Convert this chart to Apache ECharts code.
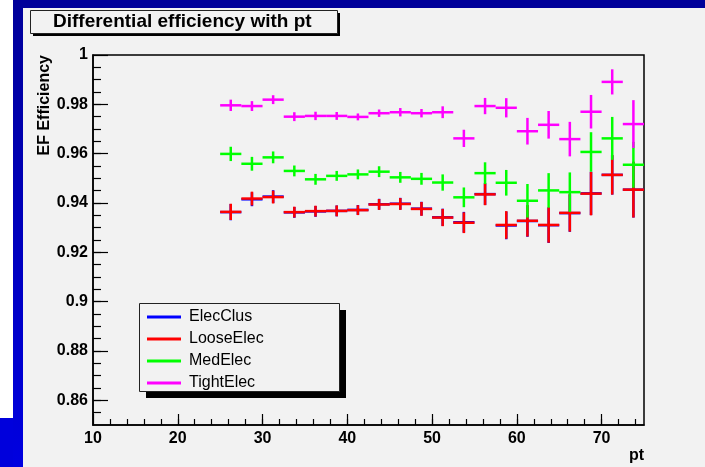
<!DOCTYPE html>
<html>
<head>
<meta charset="utf-8">
<script src="https://cdn.jsdelivr.net/npm/echarts@6/dist/echarts.min.js"></script>
<style>
  html, body { margin: 0; padding: 0; background: #f2f2f2; }
  #chart { width: 705px; height: 467px; }
</style>
</head>
<body>
<div id="chart"></div>
<script>
// bin centres in pt (bins are 2.5 wide)
var ptCenters = [26.25, 28.75, 31.25, 33.75, 36.25, 38.75, 41.25, 43.75, 46.25, 48.75,
                 51.25, 53.75, 56.25, 58.75, 61.25, 63.75, 66.25, 68.75, 71.25, 73.75];
var binHalf = 1.25;

var elecClus = [0.9363, 0.9415, 0.9426, 0.9362, 0.9366, 0.9368, 0.9372, 0.9395, 0.9397, 0.9377,
                0.9342, 0.9322, 0.9436, 0.9309, 0.9327, 0.9310, 0.9359, 0.9439, 0.9514, 0.9454];
var elecClusErr = [0.0033, 0.0028, 0.0026, 0.0022, 0.0022, 0.0022, 0.0020, 0.0022, 0.0024, 0.0028,
                   0.0035, 0.0042, 0.0044, 0.0056, 0.0064, 0.0072, 0.0076, 0.0088, 0.0080, 0.0113];

var looseElec = [0.9364, 0.9418, 0.9424, 0.9363, 0.9367, 0.9368, 0.9371, 0.9394, 0.9396, 0.9376,
                 0.9341, 0.9320, 0.9435, 0.9311, 0.9328, 0.9311, 0.9360, 0.9438, 0.9514, 0.9454];
var looseElecErr = [0.0033, 0.0028, 0.0026, 0.0022, 0.0022, 0.0022, 0.0020, 0.0022, 0.0024, 0.0028,
                    0.0035, 0.0042, 0.0044, 0.0056, 0.0064, 0.0072, 0.0076, 0.0088, 0.0080, 0.0113];

var medElec = [0.9599, 0.9559, 0.9585, 0.9530, 0.9496, 0.9510, 0.9516, 0.9527, 0.9504, 0.9498,
               0.9483, 0.9423, 0.9521, 0.9482, 0.9409, 0.9451, 0.9444, 0.9607, 0.9662, 0.9555];
var medElecErr = [0.0029, 0.0028, 0.0024, 0.0022, 0.0022, 0.0020, 0.0020, 0.0022, 0.0022, 0.0024,
                  0.0033, 0.0040, 0.0044, 0.0052, 0.0068, 0.0070, 0.0080, 0.0080, 0.0087, 0.0093];

var tightElec = [0.9796, 0.9793, 0.9819, 0.9750, 0.9753, 0.9753, 0.9749, 0.9764, 0.9768, 0.9764,
                 0.9768, 0.9662, 0.9793, 0.9786, 0.9691, 0.9717, 0.9659, 0.9770, 0.9891, 0.9720];
var tightElecErr = [0.0023, 0.0020, 0.0018, 0.0018, 0.0017, 0.0016, 0.0014, 0.0015, 0.0017, 0.0017,
                    0.0024, 0.0035, 0.0033, 0.0039, 0.0054, 0.0056, 0.0070, 0.0068, 0.0051, 0.0097];

// axis ticks
var xMajor = [10, 20, 30, 40, 50, 60, 70];
var yMajor = [0.86, 0.88, 0.9, 0.92, 0.94, 0.96, 0.98, 1];
var xMinor = [];
for (var i = 12; i < 75; i += 2) xMinor.push(i);
var yMinor = [];
for (var j = 171; j < 200; j++) yMinor.push(j * 0.005);

var chart = echarts.init(document.getElementById('chart'));

function makeData(vals, errs) {
  return ptCenters.map(function (x, k) { return [x, vals[k], errs[k]]; });
}

// cross = bin width horizontally, error bar vertically
function renderCross(params, api) {
  var x = api.value(0), y = api.value(1), e = api.value(2);
  var a = api.coord([x - binHalf, y]), b = api.coord([x + binHalf, y]);
  var c = api.coord([x, y - e]), d = api.coord([x, y + e]);
  var st = { stroke: api.visual('color'), lineWidth: 2.5 };
  return {
    type: 'group',
    children: [
      { type: 'line', shape: { x1: a[0], y1: a[1], x2: b[0], y2: b[1] }, style: st },
      { type: 'line', shape: { x1: c[0], y1: c[1], x2: d[0], y2: d[1] }, style: st }
    ]
  };
}

function crossSeries(name, color, vals, errs) {
  return {
    name: name,
    type: 'custom',
    renderItem: renderCross,
    itemStyle: { color: color },
    encode: { x: 0, y: 1 },
    data: makeData(vals, errs),
    clip: true
  };
}

// box with a hard black shadow, ROOT style
function shadowBox(x, y, w, h, off) {
  return [
    { type: 'rect', z: 3, shape: { x: x + off, y: y + off, width: w, height: h }, style: { fill: '#000' } },
    { type: 'rect', z: 3, shape: { x: x + 0.5, y: y + 0.5, width: w, height: h },
      style: { fill: '#f2f2f2', stroke: '#222', lineWidth: 1 } }
  ];
}

var font = '"Liberation Sans", Arial, sans-serif';

var option = {
  backgroundColor: '#f2f2f2',
  animation: false,
  title: {
    text: 'Differential efficiency with pt',
    left: 53,
    top: 10,
    padding: 0,
    textStyle: { fontFamily: font, fontWeight: 'bold', fontSize: 19, color: '#000', lineHeight: 23 }
  },
  legend: {
    orient: 'vertical',
    left: 139,
    top: 303,
    padding: [6, 8, 3, 8],
    itemGap: 6,
    itemWidth: 34,
    itemHeight: 3,
    icon: 'rect',
    textStyle: { fontFamily: font, fontSize: 16, color: '#000', lineHeight: 16, padding: [0, 0, 0, 3] },
    data: ['ElecClus', 'LooseElec', 'MedElec', 'TightElec']
  },
  graphic: {
    elements: [
      { type: 'rect', z: -1, shape: { x: 0, y: 0, width: 13, height: 418 }, style: { fill: '#ffffff' } },
      { type: 'rect', z: -1, shape: { x: 0, y: 418, width: 23, height: 49 }, style: { fill: '#0000dc' } },
      { type: 'rect', z: -1, shape: { x: 13, y: 0, width: 692, height: 8 }, style: { fill: '#00009a' } },
      {
        type: 'rect', z: -1, shape: { x: 13, y: 0, width: 10, height: 467 },
        style: {
          fill: new echarts.graphic.LinearGradient(0, 0, 0, 1, [
            { offset: 0, color: '#00009a' }, { offset: 1, color: '#0000e0' }
          ])
        }
      },
      {
        type: 'text', x: 45, y: 55, rotation: Math.PI / 2,
        style: {
          text: 'EF Efficiency', font: 'bold 16px ' + font, fill: '#000',
          align: 'right', verticalAlign: 'middle'
        }
      }
    ].concat(shadowBox(30, 10, 307, 23, 3), shadowBox(139, 303, 200, 88, 7))
  },
  grid: {
    left: 93, top: 55, right: 61, bottom: 42,
    show: true, borderColor: '#000', borderWidth: 1.5, backgroundColor: 'transparent'
  },
  xAxis: [
    {
      type: 'value', min: 10, max: 75, position: 'bottom',
      name: 'pt', nameLocation: 'end', nameGap: 0,
      nameTextStyle: {
        fontFamily: font, fontWeight: 'bold', fontSize: 16, color: '#000',
        align: 'right', verticalAlign: 'top', padding: [23, 0, 0, 0]
      },
      axisLine: { lineStyle: { color: '#000', width: 1.5 } },
      axisTick: { inside: true, length: 11, customValues: xMajor, lineStyle: { color: '#000', width: 1.2 } },
      axisLabel: {
        customValues: xMajor, margin: 6,
        fontFamily: font, fontWeight: 'bold', fontSize: 16, color: '#000'
      },
      splitLine: { show: false }
    },
    {
      type: 'value', min: 10, max: 75, position: 'bottom', offset: 0,
      axisLine: { show: false },
      axisTick: { inside: true, length: 6, customValues: xMinor, lineStyle: { color: '#000', width: 1.2 } },
      axisLabel: { show: false },
      splitLine: { show: false }
    }
  ],
  yAxis: [
    {
      type: 'value', min: 0.85, max: 1, position: 'left',
      axisLine: { lineStyle: { color: '#000', width: 1.5 } },
      axisTick: { inside: true, length: 15, customValues: yMajor, lineStyle: { color: '#000', width: 1.2 } },
      axisLabel: {
        customValues: yMajor, margin: 5,
        formatter: function (v) { return String(+v.toFixed(2)); },
        fontFamily: font, fontWeight: 'bold', fontSize: 16, color: '#000'
      },
      splitLine: { show: false }
    },
    {
      type: 'value', min: 0.85, max: 1, position: 'left', offset: 0,
      axisLine: { show: false },
      axisTick: { inside: true, length: 8, customValues: yMinor, lineStyle: { color: '#000', width: 1.2 } },
      axisLabel: { show: false },
      splitLine: { show: false }
    }
  ],
  series: [
    crossSeries('ElecClus', '#0000ff', elecClus, elecClusErr),
    crossSeries('LooseElec', '#ff0000', looseElec, looseElecErr),
    crossSeries('MedElec', '#00ff00', medElec, medElecErr),
    crossSeries('TightElec', '#ff00ff', tightElec, tightElecErr)
  ]
};

chart.setOption(option);
</script>
</body>
</html>
